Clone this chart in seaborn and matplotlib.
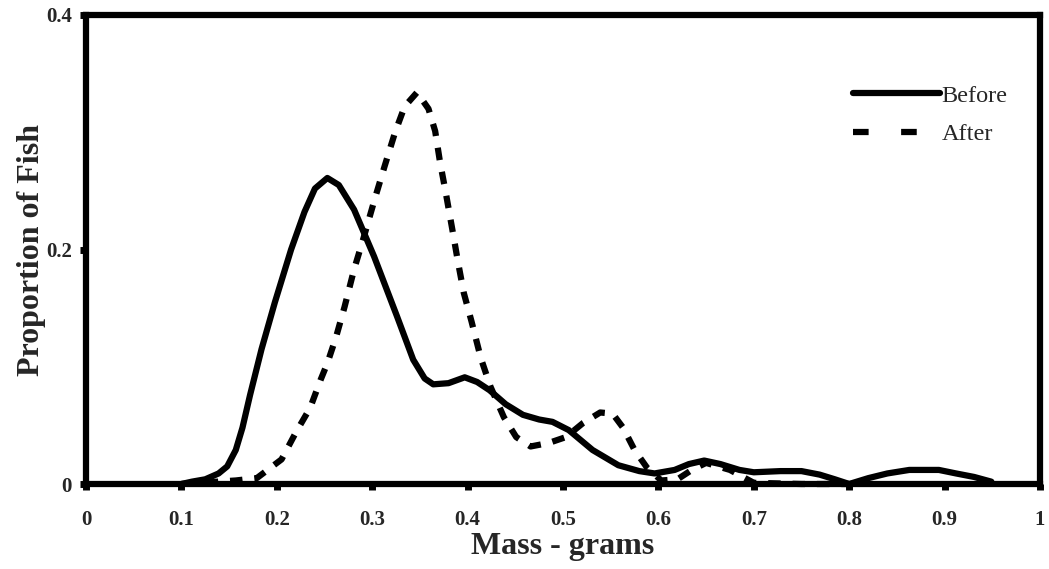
import matplotlib
matplotlib.use("Agg")
import matplotlib.pyplot as plt
import seaborn as sns
import pandas as pd

before_x = [0.100, 0.111, 0.125, 0.139, 0.148, 0.157, 0.164, 0.172, 0.184, 0.198,
            0.215, 0.229, 0.240, 0.253, 0.265, 0.281, 0.302, 0.326, 0.343, 0.355,
            0.364, 0.380, 0.397, 0.410, 0.423, 0.440, 0.458, 0.475, 0.489, 0.506,
            0.531, 0.558, 0.580, 0.596, 0.617, 0.632, 0.648, 0.665, 0.685, 0.700,
            0.728, 0.750, 0.769, 0.785, 0.800, 0.820, 0.840, 0.863, 0.880, 0.894,
            0.912, 0.931, 0.949]
before_y = [0.000, 0.002, 0.004, 0.009, 0.015, 0.029, 0.048, 0.076, 0.115, 0.155,
            0.200, 0.232, 0.252, 0.261, 0.255, 0.234, 0.194, 0.143, 0.106, 0.090,
            0.085, 0.086, 0.091, 0.087, 0.080, 0.068, 0.059, 0.055, 0.053, 0.046,
            0.029, 0.016, 0.011, 0.009, 0.012, 0.017, 0.020, 0.017, 0.012, 0.010,
            0.011, 0.011, 0.008, 0.004, 0.000, 0.005, 0.009, 0.012, 0.012, 0.012,
            0.009, 0.006, 0.002]

after_x = [0.100, 0.157, 0.179, 0.205, 0.220, 0.235, 0.246, 0.253, 0.262, 0.271,
           0.281, 0.291, 0.303, 0.313, 0.324, 0.334, 0.347, 0.359, 0.366, 0.371,
           0.377, 0.384, 0.390, 0.396, 0.404, 0.414, 0.424, 0.438, 0.451, 0.466,
           0.485, 0.503, 0.521, 0.539, 0.552, 0.563, 0.575, 0.588, 0.603, 0.620,
           0.635, 0.650, 0.675, 0.700, 0.750, 0.800]
after_y = [0.000, 0.003, 0.005, 0.021, 0.044, 0.065, 0.089, 0.103, 0.125, 0.151,
           0.183, 0.210, 0.244, 0.271, 0.300, 0.322, 0.334, 0.320, 0.301, 0.275,
           0.249, 0.217, 0.189, 0.163, 0.139, 0.107, 0.083, 0.057, 0.040, 0.032,
           0.035, 0.040, 0.052, 0.061, 0.060, 0.048, 0.029, 0.014, 0.003, 0.004,
           0.012, 0.018, 0.012, 0.001, 0.000, 0.000]

x_ticks = [0, 0.1, 0.2, 0.3, 0.4, 0.5, 0.6, 0.7, 0.8, 0.9, 1.0]
x_tick_labels = ["0", "0.1", "0.2", "0.3", "0.4", "0.5", "0.6", "0.7", "0.8", "0.9", "1"]
y_ticks = [0, 0.2, 0.4]
y_tick_labels = ["0", "0.2", "0.4"]

sns.set_theme(style="white")
plt.rcParams["font.family"] = ["Liberation Serif", "DejaVu Serif"]

fig = plt.figure(figsize=(10.49, 5.69), dpi=100)
ax = fig.add_axes([86/1049, 1 - 484/569, 954/1049, (484 - 15)/569])

df_b = pd.DataFrame({"x": before_x, "y": before_y})
df_a = pd.DataFrame({"x": after_x, "y": after_y})

sns.lineplot(data=df_b, x="x", y="y", ax=ax, color="black", linewidth=4.5,
             label="Before", solid_capstyle="round", solid_joinstyle="round")
sns.lineplot(data=df_a, x="x", y="y", ax=ax, color="black", linewidth=4.5,
             linestyle=(0, (2.0, 1.9)), dash_capstyle="butt", label="After")

ax.set_xlim(0, 1)
ax.set_ylim(0, 0.4)
ax.set_xticks(x_ticks)
ax.set_xticklabels(x_tick_labels)
ax.set_yticks(y_ticks)
ax.set_yticklabels(y_tick_labels)
for lab in ax.get_xticklabels() + ax.get_yticklabels():
    lab.set_fontweight("bold")
    lab.set_fontsize(15)

ax.tick_params(axis="both", direction="out", length=4, width=5, color="black",
               bottom=True, left=True)
ax.tick_params(axis="x", pad=15)
ax.tick_params(axis="y", pad=6)

for s in ax.spines.values():
    s.set_visible(True)
    s.set_color("black")
    s.set_linewidth(4.5)

ax.set_xlabel("Mass - grams", fontsize=23, fontweight="bold", labelpad=1)
ax.set_ylabel("Proportion of Fish", fontsize=23, fontweight="bold", labelpad=0)

for line in ax.get_lines():
    line.set_clip_on(False)

leg = ax.legend(loc="upper left", bbox_to_anchor=(831/1049, 1 - 63/569),
                bbox_transform=fig.transFigure, frameon=False, fontsize=17.5,
                handlelength=3.6, handletextpad=0.05, labelspacing=0.68)
leg_lines = leg.get_lines()
leg_lines[1].set_linestyle((0, (2.5, 5.2)))

fig.savefig("out.png", dpi=100)
